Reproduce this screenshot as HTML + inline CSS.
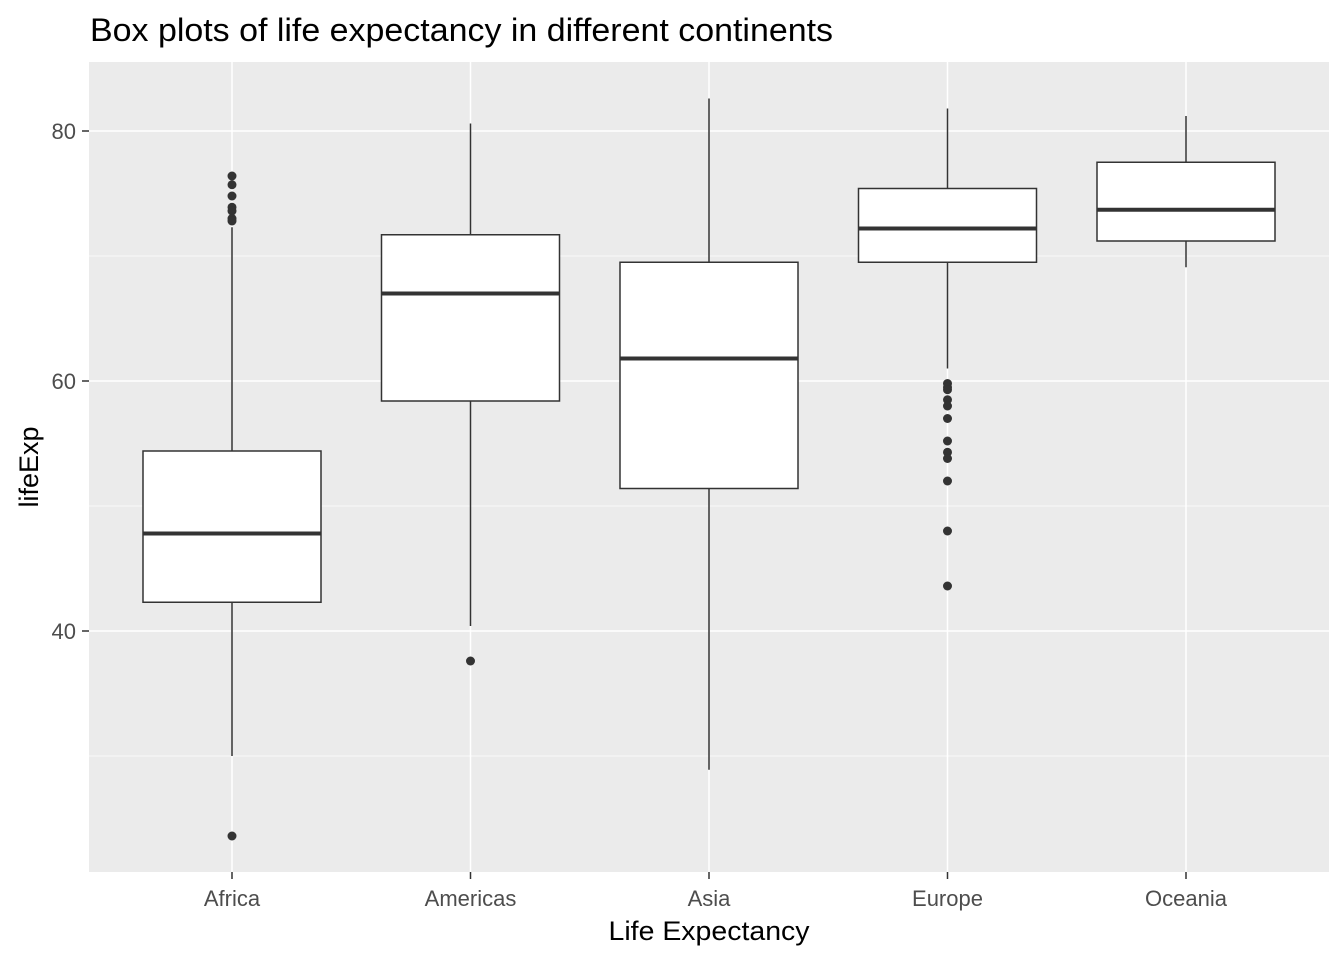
<!DOCTYPE html>
<html><head><meta charset="utf-8"><style>
body{margin:0;background:#fff}
svg{display:block;font-family:"Liberation Sans",Arial,sans-serif}
</style></head><body>
<svg id="c" width="1344" height="960">
<rect x="0" y="0" width="1344" height="960" fill="#fff"/>
<rect x="89" y="62" width="1240" height="810" fill="#ebebeb"/>
<g id="grid"></g><g id="marks"></g><g id="axes"></g>
<text x="90" y="41" font-size="32" textLength="743" lengthAdjust="spacingAndGlyphs" fill="#000">Box plots of life expectancy in different continents</text>
<text x="709" y="940" font-size="27" text-anchor="middle" textLength="201" lengthAdjust="spacingAndGlyphs" fill="#000">Life Expectancy</text>
<text transform="translate(38,467) rotate(-90)" font-size="27" text-anchor="middle" fill="#000">lifeExp</text>
</svg>
<script>
const categories=["Africa","Americas","Asia","Europe","Oceania"];
const whiskerLow=[30.0,40.4,28.9,61.0,69.1];
const q1=[42.3,58.4,51.4,69.5,71.2];
const median=[47.8,67.0,61.8,72.2,73.7];
const q3=[54.4,71.7,69.5,75.4,77.5];
const whiskerHigh=[72.3,80.6,82.6,81.8,81.2];
const outliers=[[76.4,75.7,74.8,73.9,73.6,73.0,72.8,23.6],[37.6],[],[59.8,59.5,59.3,58.5,58.0,57.0,55.2,54.3,53.8,52.0,48.0,43.6],[]];
const yTicks=[40,60,80];
const yMinor=[30,50,70];
const NS="http://www.w3.org/2000/svg";
const y=v=>131+(80-v)*12.5;
const x=i=>232+i*238.5;
const hw=89;
function mk(p,tag,a){const e=document.createElementNS(NS,tag);for(const k in a)e.setAttribute(k,a[k]);p.appendChild(e);return e;}
const G=document.getElementById('grid'),M=document.getElementById('marks'),A=document.getElementById('axes');
yMinor.forEach(v=>{const l=mk(G,'line',{x1:89,x2:1329,y1:y(v),y2:y(v),stroke:'#fff','stroke-width':0.7});

});
yTicks.forEach(v=>{const l=mk(G,'line',{x1:89,x2:1329,y1:y(v),y2:y(v),stroke:'#fff','stroke-width':1.5});


const t=mk(A,'line',{x1:82,x2:89,y1:y(v),y2:y(v),stroke:'#333','stroke-width':1.5});


const tx=mk(A,'text',{x:76,y:y(v)+8,'text-anchor':'end','font-size':22,fill:'#4d4d4d'});tx.textContent=v;

});
categories.forEach((c,i)=>{const cx=x(i);
const gl=mk(G,'line',{x1:cx,x2:cx,y1:62,y2:872,stroke:'#fff','stroke-width':1.5});


const g=mk(M,'g',{});


mk(g,'line',{x1:cx,x2:cx,y1:y(whiskerHigh[i]),y2:y(q3[i]),stroke:'#333','stroke-width':1.5});
mk(g,'line',{x1:cx,x2:cx,y1:y(q1[i]),y2:y(whiskerLow[i]),stroke:'#333','stroke-width':1.5});
mk(g,'rect',{x:cx-hw,y:y(q3[i]),width:2*hw,height:y(q1[i])-y(q3[i]),fill:'#fff',stroke:'#333','stroke-width':1.5});
mk(g,'line',{x1:cx-hw,x2:cx+hw,y1:y(median[i]),y2:y(median[i]),stroke:'#333','stroke-width':4});
outliers[i].forEach(v=>{const p=mk(g,'circle',{cx:cx,cy:y(v),r:4.5,fill:'#333'});

});
const t=mk(A,'line',{x1:cx,x2:cx,y1:872,y2:879,stroke:'#333','stroke-width':1.5});


const tx=mk(A,'text',{x:cx,y:906,'text-anchor':'middle','font-size':22,fill:'#4d4d4d'});tx.textContent=c;

});
</script>
</body></html>
